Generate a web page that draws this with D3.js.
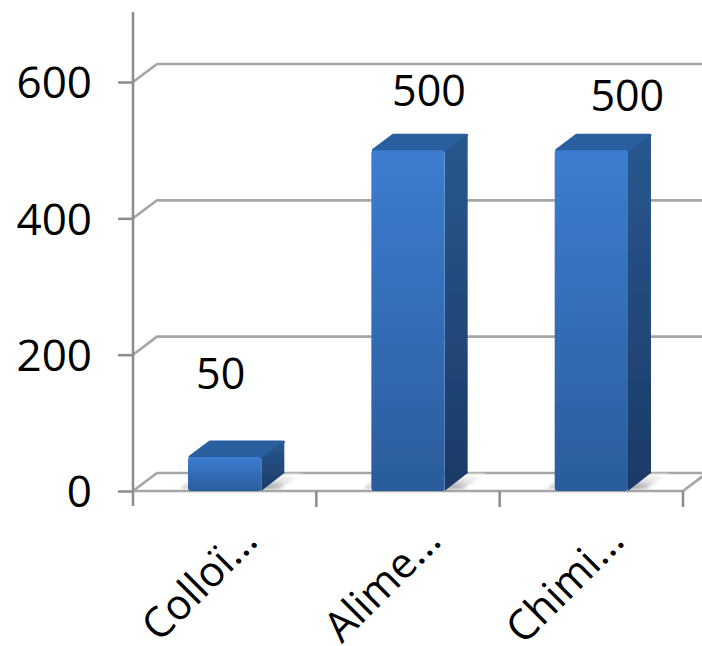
<!DOCTYPE html>
<html>
<head>
<meta charset="utf-8">
<script src="https://cdn.jsdelivr.net/npm/d3@7"></script>
<style>
  html, body { margin: 0; padding: 0; background: #fff; }
  text { font-family: "Open Sans", sans-serif; fill: #000; }
</style>
</head>
<body>
<div id="div1"></div>
<script>
////////
// Data
let categories = ["Colloï...", "Alime...", "Chimi..."];
let values = [50, 500, 500];
let yTicks = [0, 200, 400, 600];

////////
// SVG canvas
let svg_width = 702;
let svg_height = 646;

let svg = d3.select("#div1")
  .append("svg")
  .attr("width", svg_width)
  .attr("height", svg_height)
  .style("display", "block");

////////
// Scales. The plot is a fake 3D box, depth is the shift of the back wall
let depthX = 24;
let depthY = 18;

let xScale = d3.scaleBand()
  .domain(categories)
  .range([133, 683])
  .paddingInner(110 / 183.3)
  .paddingOuter(55 / 183.3);

let yScale = d3.scaleLinear()
  .domain([0, 600])
  .range([491, 82]);

let defs = svg.append("defs");

function addGradient(id, top, bottom) {
  let g = defs.append("linearGradient")
    .attr("id", id)
    .attr("x1", 0).attr("y1", 0).attr("x2", 0).attr("y2", 1);
  g.append("stop").attr("offset", "0%").attr("stop-color", top);
  g.append("stop").attr("offset", "100%").attr("stop-color", bottom);
}
addGradient("front", "#3c7dd1", "#2b5c9c");
addGradient("side", "#29588f", "#1b3a67");

let shade = defs.append("linearGradient")
  .attr("id", "shade")
  .attr("x1", 0).attr("y1", 1).attr("x2", 1).attr("y2", 0.3);
shade.append("stop").attr("offset", "0%").attr("stop-color", "#8c8c8c");
shade.append("stop").attr("offset", "55%").attr("stop-color", "#e2e2e2");
shade.append("stop").attr("offset", "100%").attr("stop-color", "#ffffff");

defs.append("filter").attr("id", "soft")
  .append("feGaussianBlur").attr("stdDeviation", 0.7);

defs.append("filter").attr("id", "softer")
  .append("feGaussianBlur").attr("stdDeviation", 1.5);

////////
// Walls: gridlines with their slanted part, then the axis
let gridColor = "#a6a6a6";

let grid = svg.append("g")
  .attr("fill", "none")
  .attr("stroke", gridColor)
  .attr("stroke-width", 2.6);

grid.selectAll("path")
  .data(yTicks)
  .enter()
  .append("path")
  .attr("d", d => `M133,${yScale(d)}L${133 + depthX},${yScale(d) - depthY}L${svg_width},${yScale(d) - depthY}`);

// floor front edge and the slanted edge on the right side
let floorRight = xScale.range()[1];
grid.append("path")
  .attr("d", `M133,${yScale(0)}L${floorRight},${yScale(0)}L${floorRight + depthX},${yScale(0) - depthY}`);

let yAxis = d3.axisLeft(yScale)
  .tickValues(yTicks)
  .tickSize(15);

let yAxisG = svg.append("g")
  .attr("transform", "translate(133,0)")
  .call(yAxis);

yAxisG.select(".domain").remove();
yAxisG.selectAll("line").attr("stroke", "#8c8c8c").attr("stroke-width", 2.5);
yAxisG.selectAll("text")
  .style("font-size", "44px")
  .attr("x", -41)
  .attr("dy", "0.36em");

svg.append("line")
  .attr("x1", 133).attr("x2", 133)
  .attr("y1", 12).attr("y2", 506)
  .attr("stroke", "#8c8c8c")
  .attr("stroke-width", 2.5);

// category ticks
let step = xScale.step();
svg.append("g").selectAll("line")
  .data(d3.range(1, categories.length + 1))
  .enter()
  .append("line")
  .attr("x1", i => 133 + i * step)
  .attr("x2", i => 133 + i * step)
  .attr("y1", yScale(0))
  .attr("y2", 507)
  .attr("stroke", "#8c8c8c")
  .attr("stroke-width", 2.5);

////////
// Bars, one group per category
let barX = (d, i) => xScale(categories[i]);
let barW = xScale.bandwidth();

// floor shadows go under the bars
let shadows = svg.selectAll(".shadow")
  .data(values)
  .enter()
  .append("g")
  .attr("class", "shadow")
  .attr("filter", "url(#softer)");

shadows.append("path")
  .attr("fill", "url(#shade)")
  .attr("d", (d, i) => {
    let x = barX(d, i) + barW, y = yScale(0) - 2;
    return `M${x},${y}L${x + depthX},${y - depthY + 3}L${x + depthX + 18},${y - depthY + 3}L${x + 18},${y}Z`;
  });

shadows.append("path")
  .attr("fill", "#cfcfcf")
  .attr("d", (d, i) => {
    let x = barX(d, i), y = yScale(0);
    return `M${x - 8},${y - 2}L${x},${y - 9}L${x},${y - 2}Z`;
  });

let bars = svg.selectAll(".bar")
  .data(values)
  .enter()
  .append("g")
  .attr("class", "bar")
  .attr("filter", "url(#soft)");

// top face
bars.append("path")
  .attr("fill", "#2a5f9f")
  .attr("stroke", "#2a5f9f")
  .attr("stroke-width", 3)
  .attr("stroke-linejoin", "round")
  .attr("d", (d, i) => {
    let x = barX(d, i), y = yScale(d);
    return `M${x + 2},${y}L${x + depthX - 2},${y - depthY + 3}L${x + barW + depthX - 2},${y - depthY + 3}L${x + barW},${y + 1}Z`;
  });

// side face
bars.append("path")
  .attr("fill", "url(#side)")
  .attr("d", (d, i) => {
    let x = barX(d, i) + barW, y = yScale(d);
    return `M${x},${y + 1}L${x + depthX - 1},${y - depthY + 2}L${x + depthX - 1},${yScale(0) - depthY}L${x},${yScale(0)}Z`;
  });

// front face
bars.append("rect")
  .attr("x", barX)
  .attr("y", d => yScale(d))
  .attr("width", barW)
  .attr("height", d => yScale(0) - yScale(d))
  .attr("rx", 3)
  .attr("fill", "url(#front)");

////////
// Value labels sit well above the bars, shifts differ per bar in the original
let labelShift = [[-4, -68], [21, -44], [36, -39]];

svg.selectAll(".value")
  .data(values)
  .enter()
  .append("text")
  .attr("class", "value")
  .attr("x", (d, i) => barX(d, i) + barW / 2 + labelShift[i][0])
  .attr("y", (d, i) => yScale(d) + labelShift[i][1])
  .attr("text-anchor", "middle")
  .style("font-size", "43px")
  .text(d => d);

////////
// Category labels, turned 45 degrees and ending near the tick
svg.selectAll(".cat")
  .data(categories)
  .enter()
  .append("text")
  .attr("class", "cat")
  .attr("text-anchor", "end")
  .attr("transform", d => `translate(${xScale(d) + barW / 2 + 35},543) rotate(-45)`)
  .style("font-size", "42px")
  .text(d => d);
</script>
</body>
</html>
